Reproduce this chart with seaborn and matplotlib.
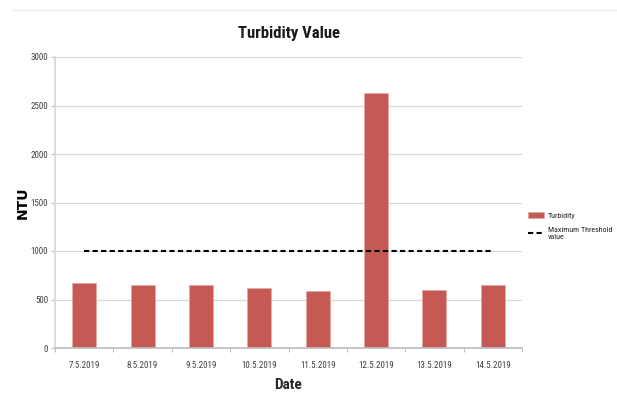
import matplotlib
matplotlib.use("Agg")
import matplotlib.pyplot as plt
import matplotlib.font_manager as fm
from matplotlib.lines import Line2D
import seaborn as sns
import pandas as pd

dates = ["7.5.2019", "8.5.2019", "9.5.2019", "10.5.2019",
         "11.5.2019", "12.5.2019", "13.5.2019", "14.5.2019"]
turbidity = [670, 650, 645, 615, 590, 2630, 595, 645]
threshold = [1000] * len(dates)
y_ticks = [0, 500, 1000, 1500, 2000, 2500, 3000]

sns.set_theme(style="white")
names = {f.name for f in fm.fontManager.ttflist}
candidates = ["Liberation Sans Narrow", "DejaVu Sans Condensed", "Roboto Condensed",
              "Open Sans Condensed", "Noto Sans Condensed", "Roboto"]
narrow = next((c for c in candidates if c in names), "DejaVu Sans")
plt.rcParams["font.family"] = [narrow, "DejaVu Sans"]

df = pd.DataFrame({"Date": dates, "Turbidity": turbidity, "Threshold": threshold})

fig = plt.figure(figsize=(6.17, 4.05), dpi=100)
ax = fig.add_axes([55 / 617, 1 - 348 / 405, (522 - 55) / 617, (348 - 57) / 405])

sns.barplot(data=df, x="Date", y="Turbidity", color="#c55a55", width=0.41,
            edgecolor="#e8a8a5", linewidth=0.6, saturation=1, ax=ax)
sns.lineplot(x=list(range(len(dates))), y=df["Threshold"], ax=ax, color="black",
             linewidth=1.5, legend=False)
thr_line = ax.lines[-1]
thr_line.set_linestyle((0, (2.5, 1.6)))

ax.set_ylim(0, 3000)
ax.set_xlim(-0.5, len(dates) - 0.5)
ax.set_yticks(y_ticks)
ax.set_yticklabels([str(v) for v in y_ticks], fontsize=6.5, color="#404040")
ax.set_xticks(range(len(dates)))
ax.set_xticklabels(dates, fontsize=6.5, color="#404040")
ax.tick_params(axis="x", length=0, pad=9)
ax.tick_params(axis="y", length=3, width=0.8, color="#bfbfbf", left=True, pad=2)
ax.yaxis.grid(True, color="#d9d9d9", linewidth=0.9)
ax.set_axisbelow(True)

# minor ticks at category boundaries
ax.set_xticks([i - 0.5 for i in range(len(dates) + 1)], minor=True)
ax.tick_params(axis="x", which="minor", length=3, width=0.8, color="#bfbfbf", bottom=True)

for s in ["top", "right"]:
    ax.spines[s].set_visible(False)
ax.spines["left"].set_color("#d9d9d9")
ax.spines["bottom"].set_color("#bfbfbf")

ax.set_xlabel("Date", fontsize=11, fontweight="bold", color="#262626", labelpad=6)
ax.set_ylabel("NTU", fontsize=10, fontweight="heavy", color="black",
              family="DejaVu Sans")
ax.yaxis.set_label_coords(-0.054, 0.5)
ax.set_title("Turbidity Value", fontsize=12, fontweight="bold", color="#1a1a1a", pad=14)

bar_patch = ax.patches[0]
labels = ["Turbidity", "Maximum Threshold\nvalue"]


def make_legend(size):
    return ax.legend([bar_patch, thr_line], labels,
                     loc="center left", bbox_to_anchor=(1.0, 0.42), frameon=False,
                     fontsize=size, handlelength=2.0, labelspacing=1.0,
                     handletextpad=0.4, borderpad=0.3)


# shrink the legend text until it fits inside the figure
fig_w = fig.get_figwidth() * fig.dpi
size = 6.5
leg = make_legend(size)
fig.canvas.draw()
while leg.get_window_extent().x1 > fig_w - 2 and size > 4.5:
    size -= 0.25
    leg.remove()
    leg = make_legend(size)
    fig.canvas.draw()

fig.add_artist(Line2D([12 / 617, 1], [1 - 10 / 405, 1 - 10 / 405],
                      color="#ececec", linewidth=0.8))

fig.savefig("out.png", dpi=100)
